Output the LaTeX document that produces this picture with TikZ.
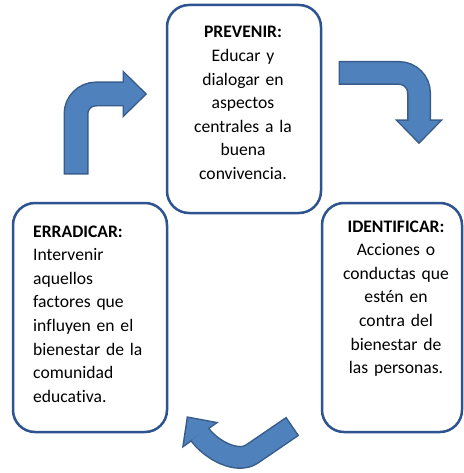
\documentclass[tikz,border=0pt]{standalone}
\usepackage{fontspec}
\setmainfont{Carlito}[Ligatures=NoCommon]
\definecolor{boxline}{HTML}{2E5490}
\definecolor{arrfill}{HTML}{4F81BD}
\definecolor{arrline}{HTML}{385D8A}
\begin{document}
\begin{tikzpicture}[x=1pt,y=-1pt,
  box/.style={draw=boxline, line width=2.5pt, rounded corners=22pt, fill=white, inner sep=0pt},
  txt/.style={font=\fontsize{17.6}{23.6}\selectfont, inner sep=0pt, text width=150pt},
  headdark/.style={fill=arrfill, draw=arrline, line width=3pt, line join=miter},
  headlight/.style={fill=arrfill},
  shaftdark/.style={draw=arrline, line width=#1+3pt, shorten <=-1.5pt},
  shaftlight/.style={draw=arrfill, line width=#1}
]
\useasboundingbox (0,0) rectangle (463,473);
\fill[white] (0,0) rectangle (463,473);

% boxes
\node[box, minimum width=154pt, minimum height=208pt] (prev) at (244,109) {};
\node[box, minimum width=154pt, minimum height=229pt] (erad) at (90,317.5) {};
\node[box, minimum width=140pt, minimum height=229pt] (iden) at (392,317.5) {};

% texts
\node[txt, align=center, anchor=base] (prevtxt) at (243,38)
  {\textbf{PREVENIR:}\\Educar y\\dialogar en\\aspectos\\centrales a la\\buena\\convivencia.};
\node[txt, align=left, anchor=base west] (eradtxt) at (33,237)
  {\textbf{ERRADICAR:}\\Intervenir\\aquellos\\factores que\\influyen en el\\bienestar de la\\comunidad\\educativa.};
\node[txt, align=center, anchor=base] (identxt) at (396,232)
  {\textbf{IDENTIFICAR:}\\Acciones o\\conductas que\\estén en\\contra del\\bienestar de\\las personas.};

% top-left arrow
\coordinate (a1s) at (76,173);
\coordinate (a1c) at (76,94);
\coordinate (a1e) at (124,94);
\coordinate (a1b1) at (124,73.5);
\coordinate (a1t) at (145,94);
\coordinate (a1b2) at (124,114.5);
\draw[headdark] (a1b1) -- (a1t) -- (a1b2) -- cycle;
\draw[shaftdark=22pt, rounded corners=20pt] (a1s) -- (a1c) -- (a1e);
\fill[headlight] (a1b1) -- (a1t) -- (a1b2) -- cycle;
\draw[shaftlight=22pt, rounded corners=20pt] (a1s) -- (a1c) -- (a1e);

% top-right arrow
\coordinate (a2s) at (340,73);
\coordinate (a2c) at (419,73);
\coordinate (a2e) at (419,121);
\coordinate (a2b1) at (398.5,121);
\coordinate (a2t) at (419,142);
\coordinate (a2b2) at (439.5,121);
\draw[headdark] (a2b1) -- (a2t) -- (a2b2) -- cycle;
\draw[shaftdark=21pt, rounded corners=20pt] (a2s) -- (a2c) -- (a2e);
\fill[headlight] (a2b1) -- (a2t) -- (a2b2) -- cycle;
\draw[shaftlight=21pt, rounded corners=20pt] (a2s) -- (a2c) -- (a2e);

% bottom arrow
\coordinate (a3s) at (291.5,427);
\coordinate (a3m) at (252,454);
\coordinate (a3e) at (199.5,434);
\coordinate (a3b1) at (184,445);
\coordinate (a3t) at (188,418);
\coordinate (a3b2) at (215,423);
\draw[headdark] (a3b1) -- (a3t) -- (a3b2) -- cycle;
\draw[shaftdark=20pt] (a3s) -- (a3m) .. controls (237,464) and (211,450) .. (a3e);
\fill[headlight] (a3b1) -- (a3t) -- (a3b2) -- cycle;
\draw[shaftlight=20pt] (a3s) -- (a3m) .. controls (237,464) and (211,450) .. (a3e);
\end{tikzpicture}
\end{document}
